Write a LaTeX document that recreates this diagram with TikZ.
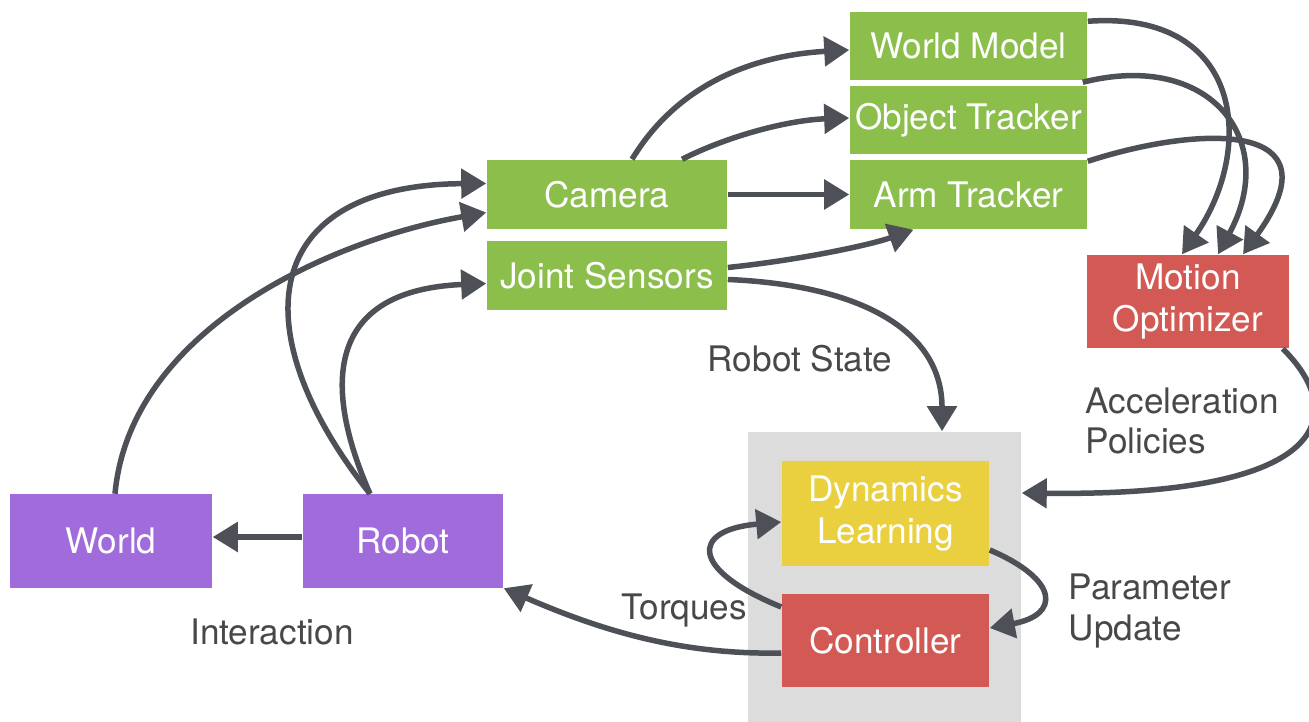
\documentclass[tikz,border=0pt]{standalone}
\usepackage{fontspec}
\setmainfont{TeX Gyre Heros}
\usetikzlibrary{arrows.meta}
\definecolor{sensegreen}{RGB}{139,190,75}
\definecolor{bodypurple}{RGB}{160,107,219}
\definecolor{planred}{RGB}{210,89,84}
\definecolor{learnyellow}{RGB}{234,208,62}
\definecolor{learngray}{RGB}{220,220,220}
\definecolor{arrowgray}{RGB}{77,80,86}
\definecolor{labelgray}{RGB}{72,72,72}

\begin{document}
\begin{tikzpicture}[x=0.01cm,y=-0.01cm,
  block/.style={rectangle, inner sep=0pt, text=white, align=center, font=\fontsize{10}{12.2}\selectfont},
  flow/.style={draw=arrowgray, line width=0.055cm, -{Triangle[length=0.25cm,width=0.29cm]}},
  tag/.style={inner sep=0pt, text=labelgray, align=left, font=\fontsize{10}{11.5}\selectfont}]
\useasboundingbox (0,0) rectangle (1309,722);

% Blocks
\node[fill=learngray, minimum width=2.73cm, minimum height=2.9cm, inner sep=0pt] (learner) at (884.5,577) {};
\node[block, fill=bodypurple, minimum width=2.02cm, minimum height=0.93cm] (world) at (111,541) {World};
\node[block, fill=bodypurple, minimum width=2.0cm, minimum height=0.93cm] (robot) at (403,541) {Robot};
\node[block, fill=sensegreen, minimum width=2.4cm, minimum height=0.69cm] (camera) at (607,194.5) {Camera};
\node[block, fill=sensegreen, minimum width=2.4cm, minimum height=0.69cm] (joint) at (607,275.5) {Joint Sensors};
\node[block, fill=sensegreen, minimum width=2.37cm, minimum height=0.68cm] (wmodel) at (968.5,46) {World Model};
\node[block, fill=sensegreen, minimum width=2.37cm, minimum height=0.68cm] (otrack) at (968.5,120) {Object Tracker};
\node[block, fill=sensegreen, minimum width=2.37cm, minimum height=0.69cm] (atrack) at (968.5,194.5) {Arm Tracker};
\node[block, fill=planred, minimum width=2.02cm, minimum height=0.93cm] (motion) at (1188,301.5) {Motion\\Optimizer};
\node[block, fill=learnyellow, minimum width=2.07cm, minimum height=1.05cm] (dyn) at (885.5,513.5) {Dynamics\\Learning};
\node[block, fill=planred, minimum width=2.07cm, minimum height=0.93cm] (ctrl) at (885.5,640.5) {Controller};

% Labels
\node[tag] (lstate) at (800,359) {Robot State};
\node[tag, anchor=west] (lpolicy) at (1085,421) {Acceleration\\Policies};
\node[tag, anchor=west] (lupdate) at (1068,611) {Parameter\\Update};
\node[tag] (ltorque) at (684,611) {Torques};
\node[tag] (linter) at (272,632) {Interaction};

% Sensing
\draw[flow] ([yshift=0.04cm]robot.west) -- ([yshift=0.04cm]world.east);
\draw[flow] ([xshift=0.04cm]world.north) .. controls (130,330) and (330,240) .. ([yshift=-0.18cm]camera.west);
\draw[flow] ([xshift=-0.33cm]robot.north) .. controls (240,330) and (260,185) .. ([yshift=0.11cm]camera.west);
\draw[flow] ([xshift=-0.33cm]robot.north) .. controls (320,380) and (330,290) .. ([yshift=-0.08cm]joint.west);
\draw[flow] ([xshift=0.25cm]camera.north) .. controls (680,80) and (760,55) .. ([yshift=-0.04cm]wmodel.west);
\draw[flow] ([xshift=0.75cm]camera.north) .. controls (730,135) and (790,120) .. ([yshift=0.02cm]otrack.west);
\draw[flow] (camera.east) -- (atrack.west);
\draw[flow] ([yshift=0.08cm]joint.east) .. controls (800,260) and (870,245) .. ([xshift=-0.55cm]atrack.south);
\draw[flow] ([yshift=-0.04cm]joint.east) .. controls (860,285) and (942,330) .. ([xshift=0.575cm]learner.north);

% Planning
\draw[flow] ([yshift=-0.1cm]wmodel.north east) .. controls (1245,10) and (1255,150) .. ([xshift=-0.06cm]motion.north);
\draw[flow] ([xshift=-0.05cm,yshift=0.03cm]otrack.north east) .. controls (1210,50) and (1280,140) .. ([xshift=0.3cm]motion.north);
\draw[flow] ([yshift=-0.02cm]atrack.north east) .. controls (1200,125) and (1340,120) .. ([xshift=0.55cm]motion.north);
\draw[flow] ([xshift=-0.07cm]motion.south east) .. controls (1345,410) and (1340,497) .. ([yshift=0.84cm]learner.east);

% Control loop
\draw[flow] ([yshift=-0.365cm]dyn.east) .. controls (1060,580) and (1060,615) .. ([yshift=0.125cm]ctrl.east);
\draw[flow] ([yshift=0.335cm]ctrl.west) .. controls (690,570) and (690,530) .. ([yshift=-0.085cm]dyn.west);
\draw[flow] ([yshift=-0.125cm]ctrl.west) .. controls (680,655) and (600,630) .. (robot.south east);
\end{tikzpicture}
\end{document}
